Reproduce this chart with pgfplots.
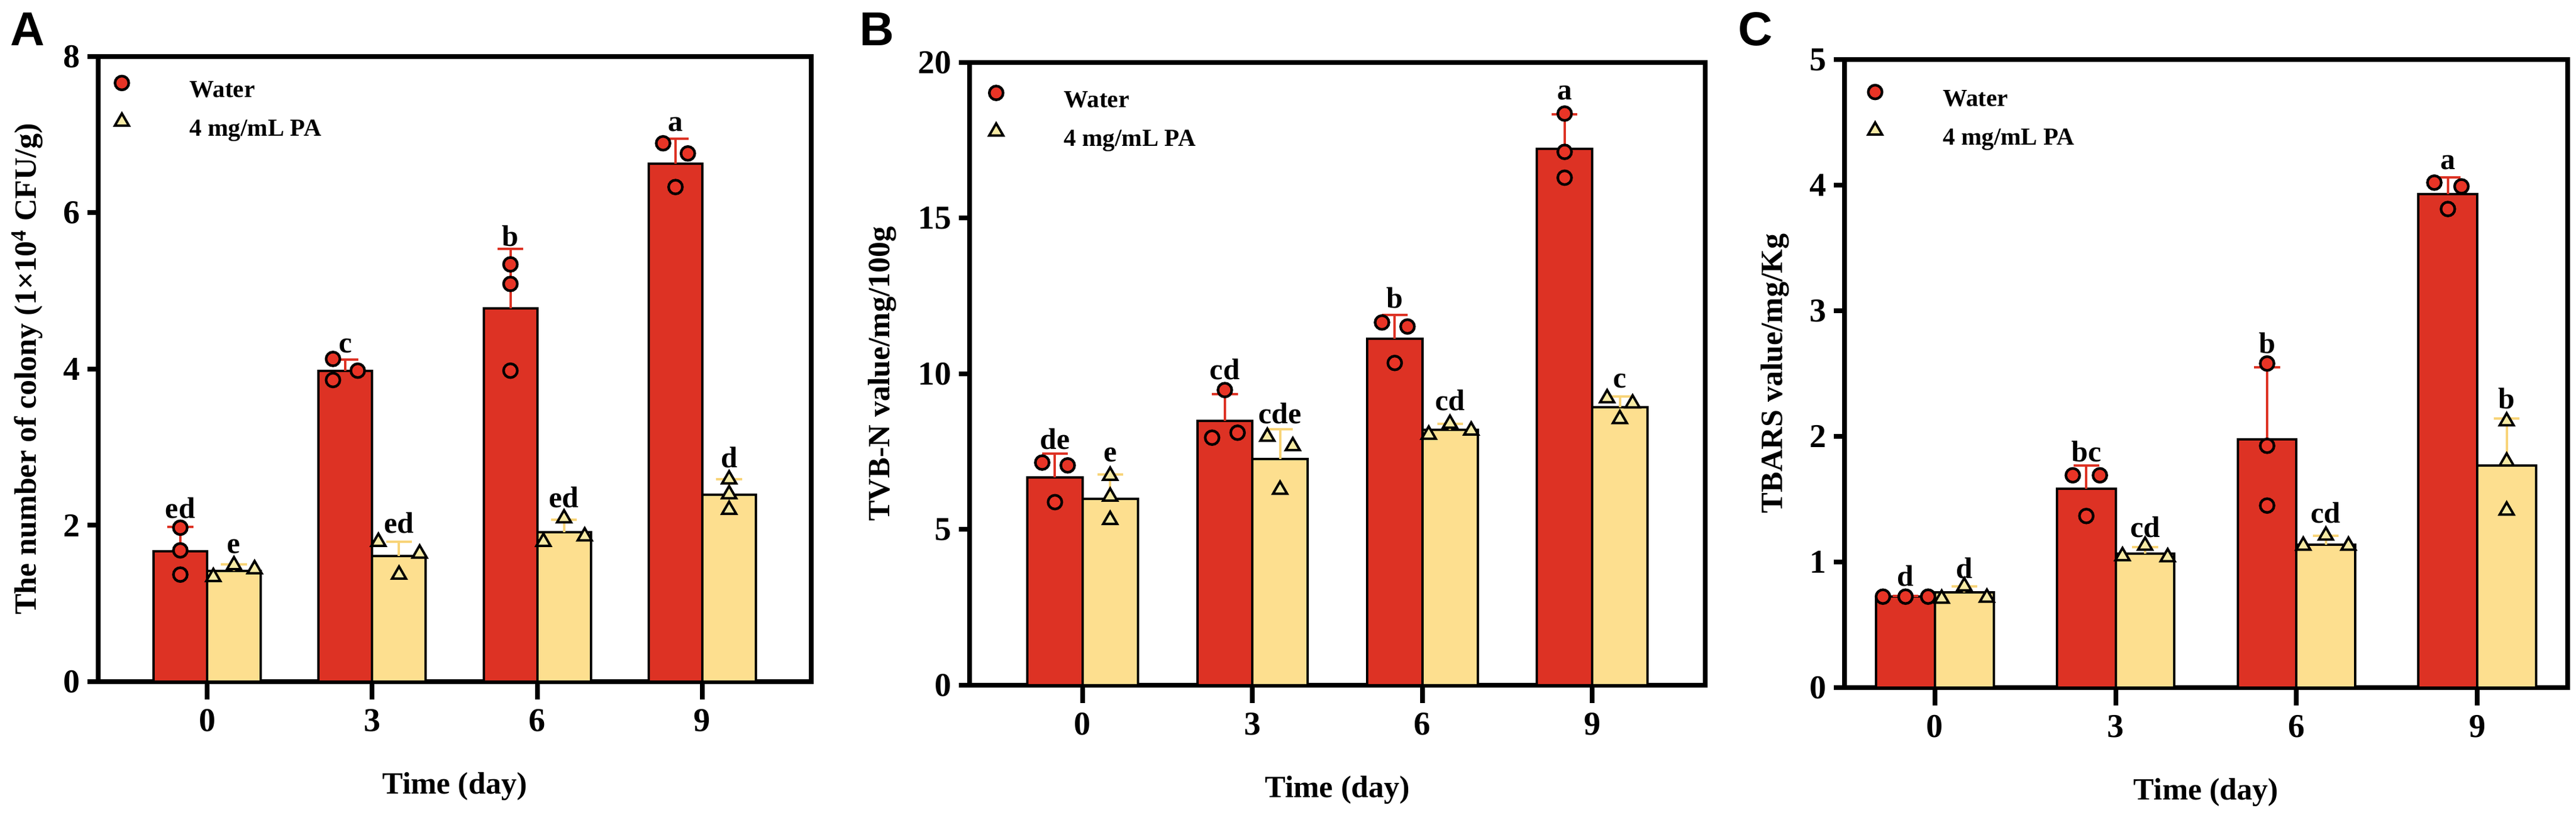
\documentclass[border=0pt]{standalone}
\usepackage{pgfplots}
\pgfplotsset{compat=1.18}
\usepackage{fontspec}
\setmainfont{Liberation Serif}
\newfontfamily\arialb{Liberation Sans}
\definecolor{barred}{RGB}{221,50,36}
\definecolor{baryel}{RGB}{253,223,143}
\definecolor{ptred}{RGB}{232,52,38}
\definecolor{ptyel}{RGB}{246,234,165}
\definecolor{erryel}{RGB}{248,212,120}

\tikzset{sig/.style={font=\fontsize{12.5}{14}\selectfont\bfseries, inner sep=0pt},
  panelletter/.style={font=\arialb\fontsize{20}{24}\selectfont\bfseries, anchor=base west, inner sep=0pt}}
\pgfplotsset{
 panel/.style={
  scale only axis,
  anchor=south west,
  axis line style={line width=2pt},
  tick pos=left, tick align=outside,
  major tick length=4.5pt,
  xtick style={/pgfplots/major tick length=7.5pt},
  every tick/.style={black, line width=2pt},
  xtick={0,1,2,3}, xticklabels={0,3,6,9},
  ymin=0,
  tick label style={font=\fontsize{14}{16}\selectfont\bfseries},
  yticklabel style={inner sep=3pt},
  xticklabel shift=3.5pt,
  label style={font=\fontsize{13}{16}\selectfont\bfseries},
  xlabel={Time (day)},
  xlabel style={at={(axis description cs:0.5,0)}, anchor=center, yshift=-44pt},
  /pgf/number format/assume math mode=true,
  clip=false,
  legend style={draw=none, fill=none, anchor=north west, inner sep=0pt,
    font=\fontsize{10.3}{12}\selectfont\bfseries, row sep=4.75pt, column sep=0pt,
    nodes={inner sep=0pt, text height=7.5pt, text depth=2pt}},
  legend cell align=left,
  legend image code/.code={\draw[##1] plot coordinates {(0pt,3.3pt)};},
 },
 wbar/.style={ybar, bar width=0.325, bar shift=0pt, fill=barred, draw=black, line width=1pt, forget plot,
   error bars/.cd, y dir=plus, y explicit, error bar style={barred, line width=1pt},
   error mark options={rotate=90, mark size=5.4pt, barred, line width=1pt}},
 ybarst/.style={ybar, bar width=0.325, bar shift=0pt, fill=baryel, draw=black, line width=1pt, forget plot,
   error bars/.cd, y dir=plus, y explicit, error bar style={erryel, line width=1pt},
   error mark options={rotate=90, mark size=5.4pt, erryel, line width=1pt}},
 wpts/.style={only marks, mark=*, mark size=2.9pt, mark options={fill=ptred, draw=black, line width=1.1pt}},
 ypts/.style={only marks, mark=triangle*, mark size=3.4pt, mark options={fill=ptyel, draw=black, line width=1pt}},
}

\begin{document}
\begin{tikzpicture}
\path[use as bounding box] (0pt,0pt) rectangle (1082pt,342.25pt);

% ---------------- Panel A ----------------
\begin{axis}[panel, at={(41.25pt,56pt)}, width=299.5pt, height=262.5pt,
  xmin=-0.66, xmax=3.66, ymax=8, ytick={0,2,4,6,8},
  ylabel={The number of colony (1×10\textsuperscript{4} CFU/g)},
  ylabel style={at={(axis description cs:-0.0993,0.5)}, anchor=center},
  legend style={at={(axis description cs:0.0227,0.9695)}}]
\addplot[wbar] coordinates {(-0.1625,1.67) +- (0,0.31) (0.8375,3.98) +- (0,0.14) (1.8375,4.78) +- (0,0.76) (2.8375,6.63) +- (0,0.32)};
\addplot[ybarst] coordinates {(0.1625,1.42) +- (0,0.08) (1.1625,1.61) +- (0,0.18) (2.1625,1.91) +- (0,0.16) (3.1625,2.39) +- (0,0.20)};
\addplot[wpts] coordinates {(-0.1625,1.97) (-0.1625,1.68) (-0.1625,1.37)
  (0.7625,4.13) (0.7625,3.86) (0.9125,3.98)
  (1.8375,5.34) (1.8375,5.09) (1.8375,3.98)
  (2.7625,6.89) (2.9125,6.76) (2.8375,6.33)};
\addlegendentry{\hspace*{25.5pt}Water}
\addplot[ypts] coordinates {(0.0375,1.34) (0.1625,1.49) (0.2875,1.44)
  (1.0375,1.79) (1.1625,1.37) (1.2875,1.64)
  (2.0375,1.79) (2.1625,2.09) (2.2875,1.86)
  (3.1625,2.59) (3.1625,2.40) (3.1625,2.20)};
\addlegendentry{\hspace*{25.5pt}4 mg/mL PA}
\node[sig] at (axis cs:-0.1625,2.22) {ed};
\node[sig] at (axis cs:0.1625,1.73) {e};
\node[sig] at (axis cs:0.8375,4.30) {c};
\node[sig] at (axis cs:1.1625,2.03) {ed};
\node[sig] at (axis cs:1.8375,5.70) {b};
\node[sig] at (axis cs:2.1625,2.36) {ed};
\node[sig] at (axis cs:2.8375,7.13) {a};
\node[sig] at (axis cs:3.1625,2.87) {d};
\end{axis}

% ---------------- Panel B ----------------
\begin{axis}[panel, at={(407.25pt,54.5pt)}, width=309pt, height=261.5pt,
  xmin=-0.665, xmax=3.665, ymax=20, ytick={0,5,10,15,20},
  ylabel={TVB-N value/mg/100g},
  ylabel style={at={(axis description cs:-0.119,0.5)}, anchor=center},
  legend style={at={(axis description cs:0.026,0.963)}}]
\addplot[wbar] coordinates {(-0.1625,6.68) +- (0,0.75) (0.8375,8.48) +- (0,0.87) (1.8375,11.12) +- (0,0.78) (2.8375,17.23) +- (0,1.10)};
\addplot[ybarst] coordinates {(0.1625,5.98) +- (0,0.78) (1.1625,7.26) +- (0,0.97) (2.1625,8.21) +- (0,0.19) (3.1625,8.93) +- (0,0.35)};
\addplot[wpts] coordinates {(-0.2375,7.15) (-0.0875,7.06) (-0.1625,5.88)
  (0.8375,9.48) (0.7625,7.95) (0.9125,8.11)
  (1.7625,11.65) (1.9125,11.52) (1.8375,10.35)
  (2.8375,18.36) (2.8375,17.13) (2.8375,16.30)};
\addlegendentry{\hspace*{25.5pt}Water}
\addplot[ypts] coordinates {(0.1625,6.73) (0.1625,6.06) (0.1625,5.31)
  (1.0875,7.98) (1.2375,7.68) (1.1625,6.28)
  (2.0375,8.05) (2.1625,8.40) (2.2875,8.18)
  (3.0875,9.22) (3.2375,9.05) (3.1625,8.55)};
\addlegendentry{\hspace*{25.5pt}4 mg/mL PA}
\node[sig] at (axis cs:-0.1625,7.9) {de};
\node[sig] at (axis cs:0.1625,7.4) {e};
\node[sig] at (axis cs:0.8375,10.15) {cd};
\node[sig] at (axis cs:1.1625,8.73) {cde};
\node[sig] at (axis cs:1.8375,12.44) {b};
\node[sig] at (axis cs:2.1625,9.15) {cd};
\node[sig] at (axis cs:2.8375,19.03) {a};
\node[sig] at (axis cs:3.1625,9.78) {c};
\end{axis}

% ---------------- Panel C ----------------
\begin{axis}[panel, at={(774.75pt,53.5pt)}, width=303.75pt, height=263.75pt,
  xmin=-0.5, xmax=3.5, ymax=5, ytick={0,1,2,3,4,5},
  ylabel={TBARS value/mg/Kg},
  ylabel style={at={(axis description cs:-0.0963,0.5)}, anchor=center},
  legend style={at={(axis description cs:0.032,0.960)}}]
\addplot[wbar] coordinates {(-0.1625,0.724) +- (0,0.006) (0.8375,1.585) +- (0,0.185) (1.8375,1.978) +- (0,0.57) (2.8375,3.93) +- (0,0.13)};
\addplot[ybarst] coordinates {(0.1625,0.757) +- (0,0.05) (1.1625,1.068) +- (0,0.05) (2.1625,1.138) +- (0,0.07) (3.1625,1.77) +- (0,0.37)};
\addplot[wpts] coordinates {(-0.2875,0.724) (-0.1625,0.724) (-0.0375,0.724)
  (0.7625,1.69) (0.9125,1.69) (0.8375,1.366)
  (1.8375,2.58) (1.8375,1.925) (1.8375,1.449)
  (2.7625,4.02) (2.9125,3.99) (2.8375,3.81)};
\addlegendentry{\hspace*{25.5pt}Water}
\addplot[ypts] coordinates {(0.0375,0.708) (0.1625,0.807) (0.2875,0.716)
  (1.0375,1.047) (1.1625,1.13) (1.2875,1.039)
  (2.0375,1.13) (2.1625,1.21) (2.2875,1.13)
  (3.1625,2.12) (3.1625,1.80) (3.1625,1.41)};
\addlegendentry{\hspace*{25.5pt}4 mg/mL PA}
\node[sig] at (axis cs:-0.1625,0.89) {d};
\node[sig] at (axis cs:0.1625,0.95) {d};
\node[sig] at (axis cs:0.8375,1.88) {bc};
\node[sig] at (axis cs:1.1625,1.28) {cd};
\node[sig] at (axis cs:1.8375,2.74) {b};
\node[sig] at (axis cs:2.1625,1.39) {cd};
\node[sig] at (axis cs:2.8375,4.18) {a};
\node[sig] at (axis cs:3.1625,2.30) {b};
\end{axis}

\node[panelletter] at (4.25pt,323pt) {A};
\node[panelletter] at (361pt,323pt) {B};
\node[panelletter] at (730pt,323pt) {C};
\end{tikzpicture}
\end{document}
